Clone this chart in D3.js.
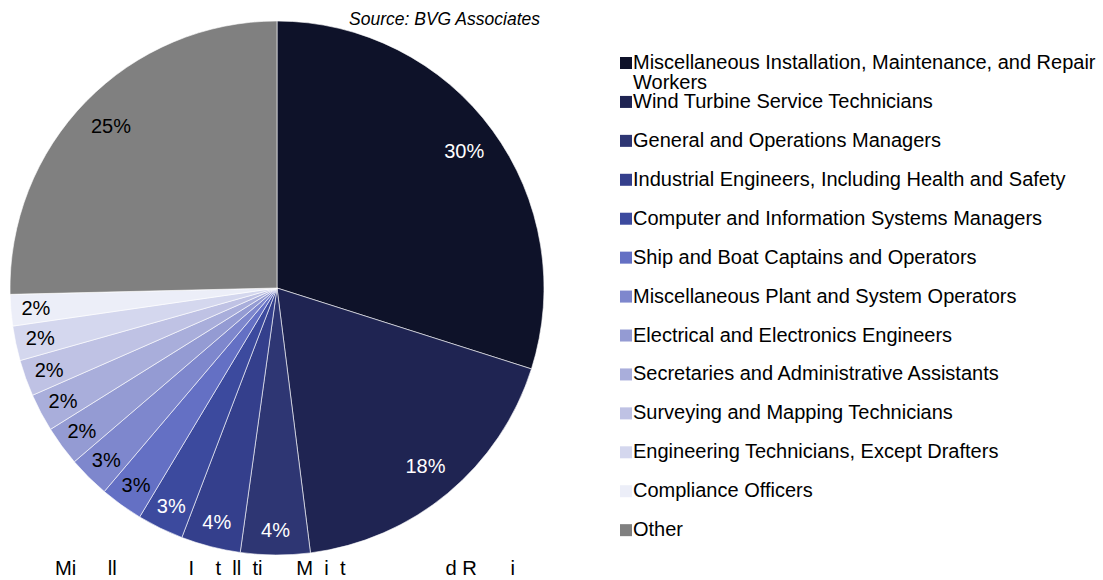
<!DOCTYPE html>
<html>
<head>
<meta charset="utf-8">
<script src="https://cdn.jsdelivr.net/npm/d3@7"></script>
<style>
  body { margin: 0; background: #fff; }
  text { font-family: "Liberation Sans", Arial, sans-serif; }
</style>
</head>
<body>
<div id="chart"></div>
<script>
// Occupations and their share of jobs (percent)
var occupations = [
    "Miscellaneous Installation, Maintenance, and Repair Workers",
    "Wind Turbine Service Technicians",
    "General and Operations Managers",
    "Industrial Engineers, Including Health and Safety",
    "Computer and Information Systems Managers",
    "Ship and Boat Captains and Operators",
    "Miscellaneous Plant and System Operators",
    "Electrical and Electronics Engineers",
    "Secretaries and Administrative Assistants",
    "Surveying and Mapping Technicians",
    "Engineering Technicians, Except Drafters",
    "Compliance Officers",
    "Other"
];
var shares = [29.9, 18.1, 4.2, 3.6, 2.8, 2.6, 2.52, 2.4, 2.3, 2.2, 2.1, 1.9, 25.38];
var colors = ["#0e1229", "#1f2452", "#2e3673", "#343f8c", "#3c4a9e", "#6470c4", "#7e87cd",
    "#949bd3", "#a9aedb", "#bfc2e4", "#d4d7ee", "#eceef8", "#808080"];
var labelColors = ["#fff", "#fff", "#fff", "#fff", "#fff", "#000", "#000",
    "#000", "#000", "#000", "#000", "#000", "#000"];
var sourceText = "Source: BVG Associates";
var footTitle = "Miscellaneous Installation, Maintenance, and Repair";

var width = 1103, height = 580;
var cx = 277, cy = 288, radius = 267;

var svg = d3.select("#chart").append("svg")
    .attr("width", width)
    .attr("height", height);

// Pie
var pie = d3.pie().sort(null).value(function (d) { return d; });
var arc = d3.arc().innerRadius(0).outerRadius(radius);
// big slices keep their labels a bit further in
var bigLabelArc = d3.arc().innerRadius(232).outerRadius(232);
var smallLabelArc = d3.arc().innerRadius(242).outerRadius(242);
var total = d3.sum(shares);

var g = svg.append("g")
    .attr("transform", "translate(" + cx + "," + cy + ")");

var slices = g.selectAll(".slice")
    .data(pie(shares))
    .enter().append("g")
    .attr("class", "slice");

slices.append("path")
    .attr("d", arc)
    .attr("fill", function (d, i) { return colors[i]; })
    .attr("stroke", "#fff")
    .attr("stroke-width", 0.6);

slices.append("text")
    .attr("transform", function (d) {
        var a = d.value > 10 ? bigLabelArc : smallLabelArc;
        return "translate(" + a.centroid(d) + ")";
    })
    .attr("text-anchor", "middle")
    .attr("dy", "0.35em")
    .style("font-size", "20px")
    .attr("fill", function (d, i) { return labelColors[i]; })
    .text(function (d) { return Math.round(d.value / total * 100) + "%"; });

// Source note
svg.append("text")
    .attr("x", 540)
    .attr("y", 25)
    .attr("text-anchor", "end")
    .style("font-size", "17.5px")
    .style("font-style", "italic")
    .text(sourceText);

// Legend
var legend = svg.append("g")
    .attr("transform", "translate(620,0)")
    .selectAll("g")
    .data(occupations)
    .enter().append("g")
    .attr("transform", function (d, i) { return "translate(0," + (62 + i * 38.93) + ")"; });

legend.append("rect")
    .attr("x", 0)
    .attr("y", -5)
    .attr("width", 12)
    .attr("height", 12)
    .attr("fill", function (d, i) { return colors[i]; });

legend.append("text")
    .attr("x", 13)
    .attr("y", 7)
    .style("font-size", "20px")
    .each(function (d, i) {
        var t = d3.select(this);
        if (i === 0) {
            t.append("tspan").attr("x", 13).text("Miscellaneous Installation, Maintenance, and Repair");
            t.append("tspan").attr("x", 13).attr("dy", 20).text("Workers");
        } else {
            t.text(d);
        }
    });

// Clipped category title at the bottom: only the tall letters show
var measure = svg.append("text")
    .attr("x", 55)
    .attr("y", 575)
    .style("font-size", "20.2px")
    .text(footTitle);
var node = measure.node();
var pieces = [];
for (var i = 0; i < footTitle.length; i++) {
    var ch = footTitle[i];
    if (/[MilItdR]/.test(ch)) {
        var last = pieces[pieces.length - 1];
        if (last && last.end === i) {
            last.text += ch;
            last.end = i + 1;
        } else {
            pieces.push({ x: node.getStartPositionOfChar(i).x, text: ch, end: i + 1 });
        }
    }
}
measure.remove();

svg.selectAll(".foot")
    .data(pieces)
    .enter().append("text")
    .attr("class", "foot")
    .attr("x", function (d) { return d.x; })
    .attr("y", 575)
    .style("font-size", "20.2px")
    .text(function (d) { return d.text; });
</script>
</body>
</html>
